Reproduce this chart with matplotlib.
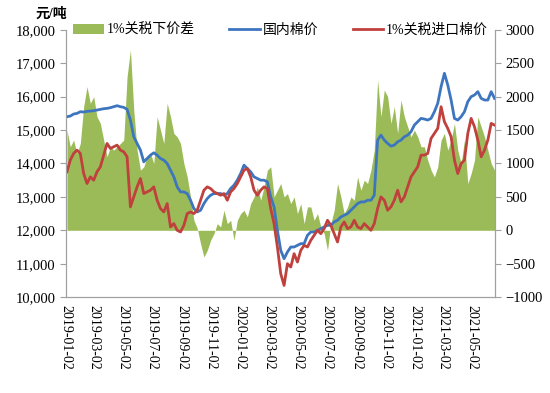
import matplotlib
matplotlib.use("Agg")
import matplotlib.pyplot as plt
import matplotlib.dates as mdates
import numpy as np
import pandas as pd

# weekly samples (Fridays)
dates = pd.date_range("2019-01-04", periods=129, freq="7D")

domestic = [
    15400, 15420, 15480, 15500, 15550, 15540, 15560, 15570, 15580, 15600,
    15620, 15640, 15650, 15670, 15700, 15730, 15700, 15680, 15620, 15300,
    14800, 14600, 14400, 14050, 14150, 14250, 14320, 14250, 14150, 14100,
    14000, 13800, 13600, 13300, 13150, 13150, 13100, 12900, 12650, 12550,
    12600, 12800, 12950, 13050, 13100, 13100, 13100, 13050, 13100, 13250,
    13350, 13500, 13700, 13950, 13850, 13750, 13600, 13550, 13500, 13500,
    13450, 13000, 12700, 12000, 11400, 11150, 11350, 11500, 11500, 11550,
    11600, 11600, 11850, 11950, 11950, 12000, 12050, 12100, 12150, 12150,
    12250, 12300, 12400, 12450, 12500, 12600, 12700, 12800, 12850, 12850,
    12900, 12900, 13050, 14700, 14850, 14700, 14600, 14520, 14550, 14650,
    14700, 14800, 14850, 14950, 15150, 15250, 15350, 15330, 15300, 15350,
    15550, 15800, 16300, 16700, 16350, 15900, 15350, 15300, 15400, 15550,
    15850, 16000, 16050, 16150, 15950, 15900, 15900, 16150, 15950,
]

imported = [
    13750, 14100, 14300, 14400, 14300, 13700, 13400, 13600, 13500, 13750,
    13900, 14250, 14600, 14450, 14500, 14550, 14400, 14350, 14200, 12700,
    13000, 13300, 13550, 13100, 13150, 13200, 13300, 12900, 12650, 12550,
    12800, 12100, 12200, 12000, 11950, 12150, 12500, 12550, 12500, 12600,
    12900, 13200, 13300, 13250, 13150, 13100, 13050, 13100, 12900, 13150,
    13250, 13400, 13600, 13800, 13850, 13600, 13200, 13050, 13200, 13300,
    13250, 12650, 12200, 11500, 10700, 10350, 11000, 10900, 11300, 11050,
    11400, 11550, 11500, 11700, 11850, 12000, 11900, 12050, 12300, 12150,
    11900, 11650, 12100, 12250, 12050, 12100, 12300, 12100, 12050, 12200,
    12100, 12000, 12200, 12650, 13000, 12900, 12600, 12700, 12900, 13200,
    12850, 13000, 13300, 13600, 13750, 13900, 14250, 14250, 14300, 14750,
    14900, 15050, 15700, 15250, 15050, 14800, 14100, 13700, 14000, 14100,
    14900, 15350, 15100, 14700, 14200, 14400, 14700, 15200, 15150,
]

spread = [
    1500, 1250, 1350, 1150, 1300, 1850, 2150, 1900, 2000, 1700,
    1600, 1350, 1100, 1250, 1200, 1250, 1300, 1350, 2300, 2700,
    1800, 1200, 900, 950, 1100, 1150, 1000, 1700, 1500, 1300,
    1900, 1700, 1450, 1400, 1300, 1000, 800, 500, 150, 30,
    -200, -400, -300, -150, -50, 100, 50, 300, 100, 150,
    -150, 150, 250, 300, 200, 400, 500, 650, 450, 650,
    900, 950, 500, 600, 700, 500, 550, 400, 500, 250,
    400, 100, 350, 350, 150, 250, 50, -50, -300, 100,
    300, 700, 500, 250, 350, 500, 450, 800, 600, 750,
    700, 900, 1200, 2250, 1700, 2100, 2000, 1600, 1850, 1450,
    1950, 1700, 1550, 1400, 1500, 1400, 1250, 1250, 1050, 900,
    800, 950, 1350, 1450, 1200, 1350, 1600, 1200, 1000, 1350,
    700, 850, 1050, 1700, 1550, 1400, 1200, 1000, 900,
]

tick_dates = pd.date_range("2019-01-01", "2021-05-01", freq="2MS") + pd.Timedelta(days=1)

plt.rcParams['font.family'] = ['Liberation Serif', 'Noto Sans CJK SC']

fig = plt.figure(figsize=(5.5, 3.93), dpi=100)
ax = fig.add_axes([0.12, 0.244, 0.78, 0.68])
ax2 = ax.twinx()
ax.set_zorder(ax2.get_zorder() + 1)
ax.patch.set_visible(False)

green = '#9BBB59'
blue = '#3D76BF'
red = '#C0403D'

ax2.fill_between(dates, spread, 0, color=green, linewidth=0, label='1%关税下价差')
l1, = ax.plot(dates, domestic, color=blue, lw=2.0, label='国内棉价')
l2, = ax.plot(dates, imported, color=red, lw=2.0, label='1%关税进口棉价')

ax.set_ylim(10000, 18000)
ax.set_yticks(np.arange(10000, 18001, 1000))
ax.yaxis.set_major_formatter(matplotlib.ticker.FuncFormatter(lambda v, p: f'{int(v):,}'))
ax2.set_ylim(-1000, 3000)
ax2.set_yticks(np.arange(-1000, 3001, 500))

ax.set_xlim(pd.Timestamp("2019-01-02"), pd.Timestamp("2021-06-19"))
ax.set_xticks(tick_dates)
ax.xaxis.set_major_formatter(mdates.DateFormatter('%Y-%m-%d'))
for lab in ax.get_xticklabels():
    lab.set_rotation(-90)
    lab.set_fontsize(10)

for a in (ax, ax2):
    for s in a.spines.values():
        s.set_color('#A0A0A0')
    a.spines['top'].set_visible(False)
ax.tick_params(axis='y', labelsize=10.5, length=4, color='#A0A0A0')
ax.tick_params(axis='x', length=0, pad=6)
ax2.tick_params(axis='y', labelsize=10.5, length=4, color='#A0A0A0')

fig.text(0.065, 0.965, '元/吨', fontsize=10, fontweight='bold', ha='left', va='center')

handles = [ax2.collections[0], l1, l2]
ax.legend(handles, [h.get_label() for h in handles], loc='center', bbox_to_anchor=(0.5, 1.0),
          ncol=3, frameon=False, fontsize=10, handlelength=2.2, handletextpad=0.2,
          columnspacing=2.5)

fig.savefig('out.png', dpi=100)
